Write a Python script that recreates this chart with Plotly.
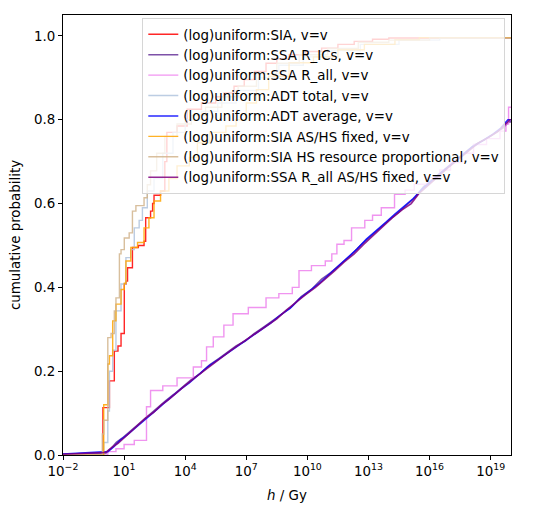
import plotly.graph_objects as go

# cumulative step curves: log10(h / Gy) where each curve steps, and the level it steps to
sia_logh = [-3, -0.04, 0.28, 0.52, 0.7, 0.85, 1.01, 1.1, 1.17, 1.41, 1.7, 1.98, 2.06, 2.3, 2.4, 2.47, 2.79,
            3.0, 3.1, 3.6, 4.1, 4.8, 5.5, 5.9, 6.4, 6.9, 7.4, 7.97, 8.5, 9.1, 9.9, 10.7, 11.5, 12.3, 13.2, 14.0, 21]
sia_p = [0, 0.113, 0.177, 0.248, 0.26, 0.29, 0.408, 0.415, 0.447, 0.495, 0.50, 0.51, 0.566, 0.582, 0.60, 0.62, 0.63,
         0.70, 0.77, 0.785, 0.825, 0.84, 0.855, 0.864, 0.88, 0.896, 0.915, 0.935, 0.945, 0.955, 0.963, 0.971, 0.98,
         0.987, 0.992, 0.995, 0.995]

ssa_rics_logh = [-3, 0.12, 0.35, 0.62, 0.9, 1.25, 1.6, 1.95, 2.3, 2.7, 3.05, 3.45, 3.9, 4.3, 4.75, 5.2, 5.65, 6.05,
                 6.5, 6.95, 7.4, 7.85, 8.3, 8.8, 9.25, 9.7, 10.2, 10.7, 11.15, 11.6, 12.1, 12.6, 13.05, 13.5, 14.0,
                 14.45, 14.9, 15.3, 15.7, 16.2, 16.7, 17.2, 17.7, 18.2, 18.7, 19.2, 19.6, 19.9, 21]
ssa_rics_p = [0, 0.005, 0.015, 0.03, 0.04, 0.055, 0.07, 0.085, 0.1, 0.115, 0.13, 0.145, 0.163, 0.18, 0.195, 0.215,
              0.23, 0.245, 0.26, 0.272, 0.29, 0.305, 0.32, 0.338, 0.355, 0.378, 0.395, 0.42, 0.435, 0.455, 0.475, 0.5,
              0.52, 0.538, 0.56, 0.578, 0.598, 0.615, 0.64, 0.66, 0.678, 0.7, 0.72, 0.74, 0.752, 0.768, 0.78, 0.795,
              0.795]

ssa_rall_logh = [-3, 0.2, 0.6, 1.0, 1.5, 2.1, 2.3, 2.9, 3.6, 4.4, 4.8, 5.05, 5.38, 5.9, 6.35, 7.1, 7.97, 8.6, 9.26,
                 9.59, 10.2, 10.88, 11.2, 11.45, 11.8, 12.17, 12.82, 13.2, 13.63, 14.28, 14.8, 15.25, 15.9, 16.5,
                 17.03, 17.6, 18.16, 18.8, 19.46, 19.75, 19.88, 21]
ssa_rall_p = [0, 0.008, 0.015, 0.025, 0.035, 0.115, 0.154, 0.165, 0.184, 0.21, 0.225, 0.258, 0.282, 0.31, 0.337,
              0.352, 0.375, 0.385, 0.40, 0.44, 0.452, 0.463, 0.48, 0.503, 0.512, 0.542, 0.56, 0.572, 0.59, 0.622,
              0.632, 0.646, 0.662, 0.68, 0.698, 0.72, 0.741, 0.755, 0.773, 0.79, 0.83, 0.83]

adt_total_logh = [-3, 0.0, 0.2, 0.28, 0.44, 0.6, 0.85, 1.09, 1.33, 1.5, 1.74, 1.9, 2.14, 2.47, 2.9, 3.4, 4.0, 4.8,
                  5.6, 6.5, 7.6, 8.6, 9.8, 11.2, 12.6, 14.5, 16.5, 21]
adt_total_p = [0, 0.03, 0.105, 0.2, 0.25, 0.344, 0.408, 0.471, 0.49, 0.542, 0.56, 0.59, 0.63, 0.66, 0.72, 0.77, 0.8,
               0.82, 0.84, 0.87, 0.9, 0.93, 0.95, 0.965, 0.98, 0.99, 0.995, 0.995]

adt_avg_logh = [-3, 0.2, 0.5, 0.8, 1.15, 1.5, 1.85, 2.2, 2.6, 2.95, 3.35, 3.8, 4.2, 4.65, 5.1, 5.55, 6.0, 6.4, 6.85,
                7.3, 7.75, 8.2, 8.7, 9.15, 9.6, 10.1, 10.6, 11.05, 11.5, 12.0, 12.45, 12.9, 13.4, 13.85, 14.3, 14.8,
                15.2, 15.65, 16.1, 16.6, 17.1, 17.6, 18.1, 18.6, 19.1, 19.5, 19.85, 21]
adt_avg_p = [0, 0.008, 0.02, 0.035, 0.048, 0.062, 0.078, 0.092, 0.108, 0.123, 0.14, 0.158, 0.172, 0.19, 0.21, 0.225,
             0.24, 0.255, 0.27, 0.285, 0.3, 0.315, 0.335, 0.35, 0.372, 0.39, 0.41, 0.43, 0.45, 0.472, 0.492, 0.515,
             0.535, 0.555, 0.575, 0.595, 0.612, 0.635, 0.655, 0.675, 0.695, 0.715, 0.735, 0.75, 0.765, 0.78, 0.8, 0.8]

sia_fixed_logh = [-3, 0.0, 0.2, 0.28, 0.44, 0.6, 0.85, 1.01, 1.09, 1.33, 1.66, 1.98, 2.22, 2.47, 2.79, 3.2, 3.6,
                  4.2, 4.6, 5.2, 6.0, 6.5, 7.0, 7.5, 8.1, 9.1, 10.3, 11.5, 12.8, 14.3, 15.5, 21]
sia_fixed_p = [0, 0.12, 0.217, 0.237, 0.32, 0.36, 0.395, 0.41, 0.463, 0.495, 0.507, 0.542, 0.566, 0.606, 0.63, 0.66,
               0.69, 0.71, 0.745, 0.77, 0.785, 0.80, 0.84, 0.872, 0.904, 0.936, 0.95, 0.967, 0.98, 0.991, 0.996, 0.996]

sia_prop_logh = [-3, -0.07, 0.0, 0.2, 0.36, 0.52, 0.6, 0.77, 0.85, 1.01, 1.25, 1.41, 1.58, 1.98, 2.14, 2.3, 2.6,
                 3.0, 3.6, 4.3, 5.0, 5.8, 6.6, 7.5, 8.5, 9.6, 11.0, 12.5, 14.0, 16.0, 21]
sia_prop_p = [0, 0.05, 0.083, 0.28, 0.29, 0.344, 0.375, 0.48, 0.49, 0.518, 0.53, 0.582, 0.595, 0.614, 0.645, 0.678,
              0.72, 0.76, 0.79, 0.81, 0.83, 0.855, 0.88, 0.91, 0.935, 0.955, 0.97, 0.985, 0.99, 0.995, 0.995]

ssa_rall_fixed_logh = [-3, 0.1, 0.4, 0.7, 1.05, 1.4, 1.7, 2.05, 2.45, 2.85, 3.2, 3.6, 4.05, 4.5, 4.9, 5.35, 5.8, 6.2,
                       6.7, 7.15, 7.6, 8.05, 8.5, 8.95, 9.45, 9.9, 10.4, 10.85, 11.35, 11.8, 12.3, 12.75, 13.25, 13.7,
                       14.15, 14.65, 15.1, 15.5, 15.95, 16.4, 16.9, 17.4, 17.9, 18.4, 18.9, 19.35, 19.7, 19.95, 21]
ssa_rall_fixed_p = [0, 0.006, 0.018, 0.028, 0.043, 0.058, 0.072, 0.088, 0.102, 0.12, 0.133, 0.15, 0.168, 0.185, 0.2,
                    0.218, 0.235, 0.248, 0.265, 0.28, 0.295, 0.31, 0.325, 0.345, 0.365, 0.382, 0.4, 0.418, 0.44,
                    0.46, 0.48, 0.502, 0.525, 0.545, 0.565, 0.585, 0.6, 0.625, 0.645, 0.665, 0.685, 0.705, 0.725,
                    0.745, 0.758, 0.772, 0.788, 0.8, 0.8]

# (label, x, y, colour, line shape) - the three dense curves have tiny steps, drawn as plain lines
series = [
    ("(log)uniform:SIA, v=v", sia_logh, sia_p, "red", "hv"),
    ("(log)uniform:SSA R_ICs, v=v", ssa_rics_logh, ssa_rics_p, "rebeccapurple", "linear"),
    ("(log)uniform:SSA R_all, v=v", ssa_rall_logh, ssa_rall_p, "violet", "hv"),
    ("(log)uniform:ADT total, v=v", adt_total_logh, adt_total_p, "lightsteelblue", "hv"),
    ("(log)uniform:ADT average, v=v", adt_avg_logh, adt_avg_p, "blue", "linear"),
    ("(log)uniform:SIA AS/HS fixed, v=v", sia_fixed_logh, sia_fixed_p, "orange", "hv"),
    ("(log)uniform:SIA HS resource proportional, v=v", sia_prop_logh, sia_prop_p, "tan", "hv"),
    ("(log)uniform:SSA R_all AS/HS fixed, v=v", ssa_rall_fixed_logh, ssa_rall_fixed_p, "purple", "linear"),
]

x_tick_exp = [-2, 1, 4, 7, 10, 13, 16, 19]
x_tick_labels = ["10<sup>\u22122</sup>", "10<sup>1</sup>", "10<sup>4</sup>", "10<sup>7</sup>",
                 "10<sup>10</sup>", "10<sup>13</sup>", "10<sup>16</sup>", "10<sup>19</sup>"]

fig = go.Figure()
for name, logh, p, color, shape in series:
    fig.add_trace(go.Scatter(
        x=[10.0 ** e for e in logh], y=p, name=name, mode="lines",
        line=dict(color=color, width=1.6 if shape == "linear" else 1.4, shape=shape), opacity=0.85,
    ))

FS = 13.4
fig.update_layout(
    width=532, height=502,
    margin=dict(l=49, r=29, t=6, b=55),
    plot_bgcolor="white", paper_bgcolor="white",
    font=dict(family="DejaVu Sans", size=FS, color="black"),
    showlegend=True,
    legend=dict(x=0.177, y=0.993, xanchor="left", yanchor="top",
                bgcolor="rgba(255,255,255,0.8)", bordercolor="#d6d6d6", borderwidth=1,
                font=dict(size=FS), tracegroupgap=0),
)
fig.update_xaxes(
    type="log", range=[-2, 20],
    tickvals=[10.0 ** e for e in x_tick_exp], ticktext=x_tick_labels,
    tickfont=dict(size=FS),
    showgrid=False, zeroline=False, ticks="outside", ticklen=4, tickcolor="black",
    showline=True, linecolor="black", linewidth=1, mirror=True,
    title=dict(text="<i>h</i> / Gy", standoff=12, font=dict(size=FS)),
)
fig.update_yaxes(
    range=[0, 1.05], tick0=0, dtick=0.2, tickformat=".1f",
    tickfont=dict(size=FS),
    showgrid=False, zeroline=False, ticks="outside", ticklen=4, tickcolor="black",
    showline=True, linecolor="black", linewidth=1, mirror=True,
    title=dict(text="cumulative probability", standoff=11, font=dict(size=FS)),
)

fig.write_html("out.html")
